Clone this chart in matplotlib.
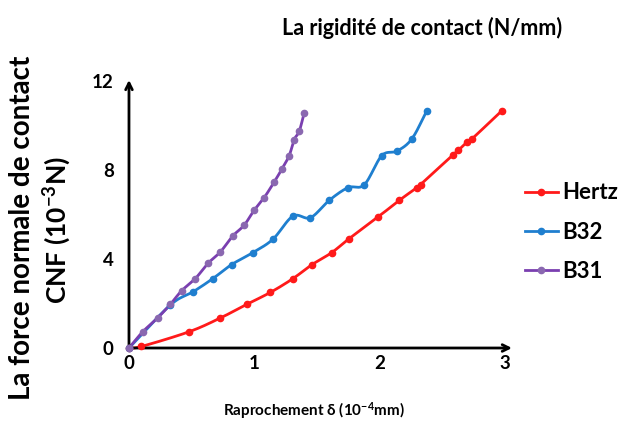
import numpy as np
import matplotlib
matplotlib.use("Agg")
import matplotlib.pyplot as plt
from matplotlib.lines import Line2D

plt.rcParams['font.family'] = ['Lato', 'DejaVu Sans']
plt.rcParams['mathtext.default'] = 'regular'

# ---- data ----
hertz_x = [0, 0.10, 0.48, 0.73, 0.94, 1.13, 1.31, 1.46, 1.62, 1.76, 1.99, 2.16, 2.30, 2.33, 2.59, 2.63, 2.70, 2.74, 2.98]
hertz_y = [0, 0.07, 0.73, 1.35, 1.96, 2.50, 3.12, 3.74, 4.29, 4.92, 5.89, 6.64, 7.21, 7.35, 8.69, 8.88, 9.25, 9.40, 10.67]

b32_x = [0, 0.33, 0.51, 0.67, 0.82, 0.99, 1.15, 1.31, 1.45, 1.60, 1.75, 1.88, 2.02, 2.14, 2.26, 2.38]
b32_y = [0, 1.93, 2.52, 3.12, 3.75, 4.29, 4.89, 5.93, 5.86, 6.64, 7.21, 7.34, 8.65, 8.85, 9.40, 10.67]

b31_x = [0, 0.11, 0.23, 0.33, 0.42, 0.53, 0.63, 0.73, 0.83, 0.92, 1.00, 1.08, 1.16, 1.22, 1.28, 1.32, 1.36, 1.40]
b31_y = [0, 0.73, 1.36, 1.96, 2.57, 3.12, 3.80, 4.32, 5.04, 5.52, 6.19, 6.76, 7.46, 8.03, 8.65, 9.37, 9.74, 10.57]

series_names = ["Hertz", "B32", "B31"]
line_colors = ["#FF1A1A", "#1F7FCF", "#7A3FB0"]
marker_colors = ["#FF1A1A", "#1F7FCF", "#8A68B0"]

x_ticks = [0, 1, 2, 3]
y_ticks = [0, 4, 8, 12]


def smooth(xs, ys, n=20):
    """Catmull-Rom smoothing of a polyline (drawing only)."""
    p = np.column_stack([xs, ys]).astype(float)
    p = np.vstack([2 * p[0] - p[1], p, 2 * p[-1] - p[-2]])
    out = []
    t = np.linspace(0, 1, n, endpoint=False)[:, None]
    for i in range(1, len(p) - 2):
        p0, p1, p2, p3 = p[i - 1], p[i], p[i + 1], p[i + 2]
        seg = 0.5 * ((2 * p1) + (-p0 + p2) * t + (2 * p0 - 5 * p1 + 4 * p2 - p3) * t ** 2
                     + (-p0 + 3 * p1 - 3 * p2 + p3) * t ** 3)
        out.append(seg)
    out.append(p[-2][None, :])
    out = np.vstack(out)
    return out[:, 0], out[:, 1]


fig = plt.figure(figsize=(6.21, 4.23), dpi=100)
ax = fig.add_axes([0.2077, 0.1773, 0.6167, 0.6336])

data = [(hertz_x, hertz_y), (b32_x, b32_y), (b31_x, b31_y)]
for (xs, ys), name, lc, mc in zip(data, series_names, line_colors, marker_colors):
    sx, sy = smooth(xs, ys)
    ax.plot(sx, sy, color=lc, lw=2, clip_on=False, zorder=3)
    ax.plot(xs, ys, ls='none', marker='o', ms=4.5, color=mc, clip_on=False, zorder=4)

ax.set_xlim(0, 3.06)
ax.set_ylim(0, 12.05)
ax.set_xticks(x_ticks)
ax.set_yticks(y_ticks)
ax.set_xticklabels([str(v) for v in x_ticks], fontsize=13.5, fontweight='bold')
ax.set_yticklabels([str(v) for v in y_ticks], fontsize=13.5, fontweight='bold')
ax.tick_params(length=0)
ax.tick_params(axis='x', pad=5)
ax.tick_params(axis='y', pad=11)

for s in ['top', 'right', 'left', 'bottom']:
    ax.spines[s].set_visible(False)

ax.annotate('', xy=(1.0, 0), xytext=(0, 0), xycoords='axes fraction',
            arrowprops=dict(arrowstyle='->', lw=2, color='black', mutation_scale=12,
                            shrinkA=0, shrinkB=0))
ax.annotate('', xy=(0, 1.0), xytext=(0, 0), xycoords='axes fraction',
            arrowprops=dict(arrowstyle='->', lw=2, color='black', mutation_scale=12,
                            shrinkA=0, shrinkB=0))

fig.text(0.68, 0.935, "La rigidité de contact (N/mm)", fontsize=15.5, fontweight='bold',
         ha='center', va='center')
fig.text(0.505, 0.03, "Raprochement δ (10$^{-4}$mm)", fontsize=11, fontweight='bold',
         ha='center', va='center')
fig.text(0.036, 0.461, "La force normale de contact", fontsize=20, fontweight='bold',
         ha='center', va='center', rotation=90)
fig.text(0.092, 0.457, "CNF (10$^{-3}$N)", fontsize=19, fontweight='bold',
         ha='center', va='center', rotation=90)

handles = [Line2D([0], [0], color=lc, lw=2, marker='o', ms=4.5, markerfacecolor=mc,
                  markeredgecolor=mc) for lc, mc in zip(line_colors, marker_colors)]
leg = fig.legend(handles, series_names, loc='center left', bbox_to_anchor=(0.845, 0.4515),
                 frameon=False, prop={'weight': 'bold', 'size': 16}, handlelength=1.5,
                 handletextpad=0.2, labelspacing=0.82, borderpad=0, borderaxespad=0)

fig.savefig("out.png", dpi=100)
